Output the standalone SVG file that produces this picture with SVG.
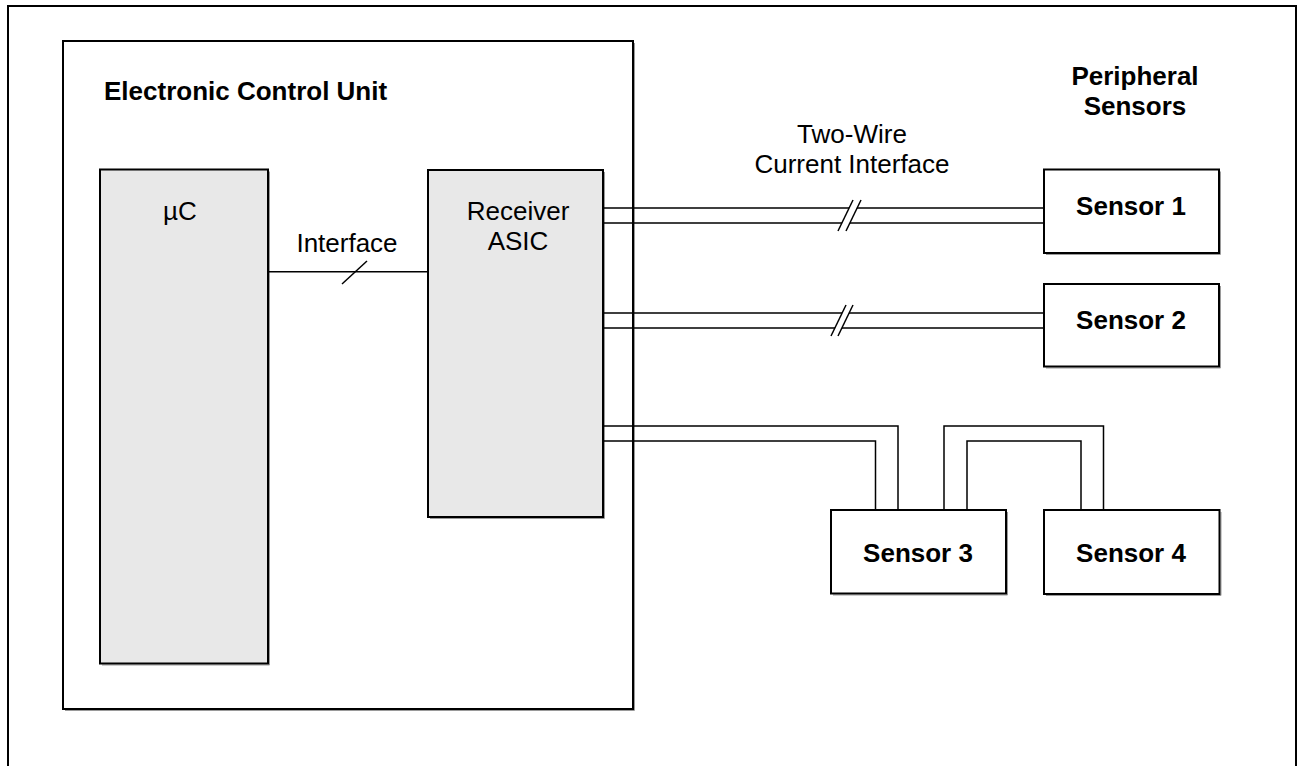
<svg xmlns="http://www.w3.org/2000/svg" width="1304" height="766" viewBox="0 0 1304 766">
<style>
.box{fill:#fff;stroke:#000;stroke-width:2}
.chip{fill:#e8e8e8;stroke:#000;stroke-width:2}
.sh{fill:none;stroke:#9a9a9a;stroke-width:1}
.w{fill:none;stroke:#000;stroke-width:1.5}
.t{font-family:"Liberation Sans",Arial,sans-serif;font-size:26px;fill:#000}
.b{font-weight:bold}
.c{text-anchor:middle}
</style>
<rect width="1304" height="766" fill="#fff"/>
<path d="M8,766 V6 H1296 V766" fill="none" stroke="#000" stroke-width="2"/>
<g id="ecu">
<path class="sh" d="M634.5,43 V710.5 H65"/>
<rect class="box" x="63" y="41" width="570" height="668"/>
<text class="t b" x="104" y="100">Electronic Control Unit</text>
</g>
<g id="uc">
<path class="sh" d="M269.5,171.5 V665 H102"/>
<rect class="chip" x="100" y="169.5" width="168" height="494"/>
<text class="t c" x="180" y="220">µC</text>
</g>
<g id="asic">
<path class="sh" d="M604.5,172 V518.5 H430"/>
<rect class="chip" x="428" y="170" width="175" height="347"/>
<text class="t c" x="518" y="220">Receiver</text>
<text class="t c" x="518" y="249.5">ASIC</text>
</g>
<g id="periph-label">
<text class="t b c" x="1135" y="85">Peripheral</text>
<text class="t b c" x="1135" y="115">Sensors</text>
</g>
<g id="twowire-label">
<text class="t c" x="852" y="143">Two-Wire</text>
<text class="t c" x="852" y="173">Current Interface</text>
</g>
<g id="sensor1">
<path class="sh" d="M1220.5,171.5 V254.5 H1046"/>
<rect class="box" x="1044" y="169.5" width="175" height="83.5"/>
<text class="t b c" x="1131" y="214.5">Sensor 1</text>
</g>
<g id="sensor2">
<path class="sh" d="M1220.5,286 V368 H1046"/>
<rect class="box" x="1044" y="284" width="175" height="82.5"/>
<text class="t b c" x="1131" y="328.5">Sensor 2</text>
</g>
<g id="sensor3">
<path class="sh" d="M1007.5,512 V595 H833"/>
<rect class="box" x="831" y="510" width="175" height="83.5"/>
<text class="t b c" x="918" y="562">Sensor 3</text>
</g>
<g id="sensor4">
<path class="sh" d="M1221,512 V595.5 H1046"/>
<rect class="box" x="1044" y="510" width="175.5" height="84"/>
<text class="t b c" x="1131" y="562">Sensor 4</text>
</g>
<g id="connectors">
<line class="w" x1="268" y1="271.7" x2="428" y2="271.7"/>
<line class="w" x1="342" y1="284" x2="367" y2="261"/>
<text class="t c" x="347" y="251.5">Interface</text>
<path class="w" d="M603,208 H849 M857,208 H1044 M603,223 H842 M850,223 H1044"/>
<line class="w" x1="838" y1="231" x2="853" y2="200"/>
<line class="w" x1="846" y1="231" x2="861" y2="200"/>
<path class="w" d="M603,313 H842 M849,313 H1044 M603,328 H835 M842,328 H1044"/>
<line class="w" x1="831" y1="336" x2="846" y2="305"/>
<line class="w" x1="838" y1="336" x2="853" y2="305"/>
<path class="w" d="M603,426 H898 V510 M603,441 H875.5 V510"/>
<path class="w" d="M944,510 V426 H1103.5 V510 M967,510 V441 H1081 V510"/>
</g>
</svg>
